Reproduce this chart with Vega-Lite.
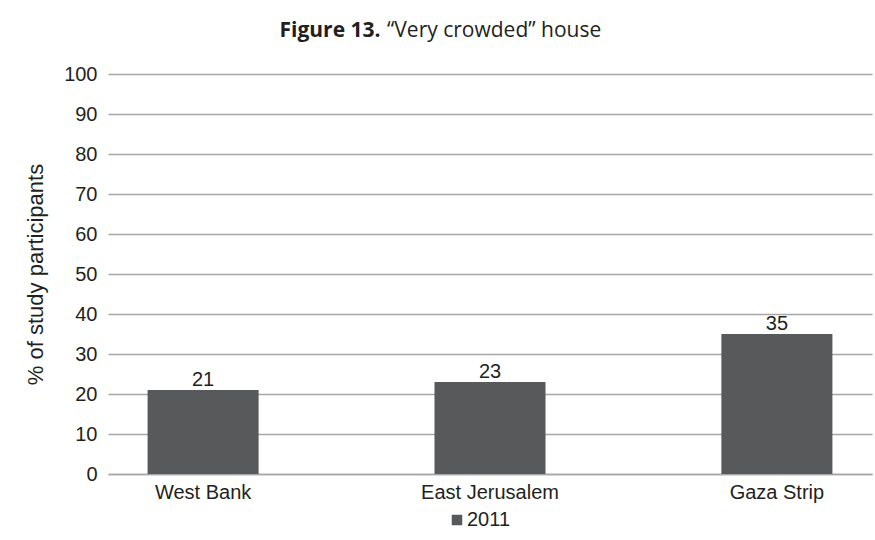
{
  "$schema": "https://vega.github.io/schema/vega-lite/v6.json",
  "autosize": {"type": "none"},
  "width": 764,
  "height": 400,
  "padding": {"left": 108, "top": 74, "right": 3, "bottom": 66},
  "background": "white",
  "title": {
    "text": "“Very crowded” house",
    "anchor": "start",
    "dx": 363,
    "offset": 0,
    "dy": 39,
    "baseline": "alphabetic",
    "font": "Open Sans",
    "fontSize": 21,
    "fontWeight": "normal",
    "color": "#231f20"
  },
  "data": {
    "values": [
      {"region": "West Bank", "value": 21, "year": "2011"},
      {"region": "East Jerusalem", "value": 23, "year": "2011"},
      {"region": "Gaza Strip", "value": 35, "year": "2011"}
    ]
  },
  "encoding": {
    "x": {
      "field": "region",
      "type": "nominal",
      "sort": null,
      "scale": {"paddingInner": 0.613, "paddingOuter": 0.138},
      "axis": {
        "title": "Figure 13.",
        "titleFont": "Open Sans",
        "titleFontSize": 21,
        "titleFontWeight": "bold",
        "titleColor": "#231f20",
        "titleX": 171,
        "titleY": -438,
        "titleAlign": "left",
        "titleAnchor": null,
        "titleBaseline": "alphabetic",
        "labelAngle": 0,
        "labelFont": "Liberation Sans",
        "labelFontSize": 20,
        "labelColor": "#231f20",
        "labelPadding": 8,
        "ticks": false,
        "domain": true,
        "domainColor": "#a6a6a6",
        "domainWidth": 1.5,
        "grid": false
      }
    },
    "y": {
      "field": "value",
      "type": "quantitative",
      "scale": {"domain": [0, 100]},
      "axis": {
        "title": "% of study participants",
        "titleFont": "Liberation Sans",
        "titleFontSize": 22,
        "titleFontWeight": "normal",
        "titleColor": "#231f20",
        "titleX": -73,
        "titleY": 200,
        "titleAngle": -90,
        "titleAlign": "center",
        "titleBaseline": "middle",
        "values": [0, 10, 20, 30, 40, 50, 60, 70, 80, 90, 100],
        "labelFont": "Liberation Sans",
        "labelFontSize": 20,
        "labelColor": "#231f20",
        "labelPadding": 11,
        "ticks": false,
        "domain": false,
        "grid": true,
        "gridColor": "#a6a6a6",
        "gridWidth": 1.5
      }
    }
  },
  "layer": [
    {
      "mark": {"type": "bar", "color": "#58595b"},
      "encoding": {
        "color": {
          "field": "year",
          "type": "nominal",
          "scale": {"range": ["#58595b"]},
          "legend": {
            "title": null,
            "orient": "none",
            "legendX": 339,
            "legendY": 436,
            "direction": "horizontal",
            "symbolType": "square",
            "symbolSize": 110,
            "symbolStrokeWidth": 0,
            "symbolOpacity": 1,
            "labelFont": "Liberation Sans",
            "labelFontSize": 20,
            "labelColor": "#231f20",
            "labelOffset": 0
          }
        }
      }
    },
    {
      "mark": {
        "type": "text",
        "baseline": "alphabetic",
        "dy": -4,
        "font": "Liberation Sans",
        "fontSize": 20,
        "color": "#231f20"
      },
      "encoding": {"text": {"field": "value", "type": "quantitative"}}
    }
  ],
  "config": {"view": {"stroke": null}}
}
